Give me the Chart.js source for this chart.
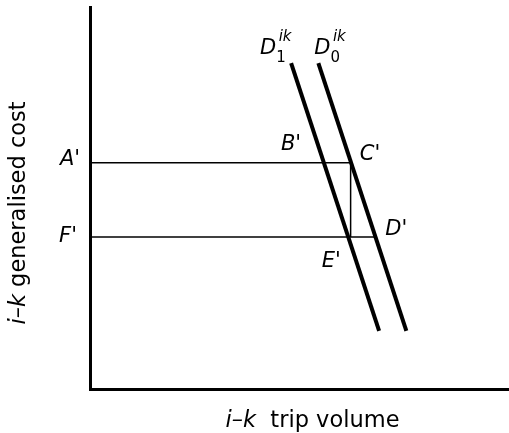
<!DOCTYPE html>
<html>
<head>
<meta charset="utf-8">
<script src="https://cdn.jsdelivr.net/npm/chart.js@4"></script>
<style>
  html, body { margin: 0; padding: 0; background: #fff; }
  #chart { display: block; }
</style>
</head>
<body>
<canvas id="chart" width="509" height="433"></canvas>
<script>
// demand curves (volume, cost), axes run 0..100
const d1Volume = [48, 69];
const d1Cost = [85.3, 15.2];
const d0Volume = [54.5, 75.5];
const d0Cost = [85.3, 15.2];

// cost levels A' and F'
const costLevels = [59.2, 39.8];
// volumes where the guide lines stop: C' (on D0), E' (on D1), D' (on D0)
const volC = 62.3;
const volE = 62.1;
const volD = 68.1;

const pointLabels = ["A'", "B'", "C'", "D'", "E'", "F'"];
const xTitle = ['i–k', '  trip volume'];
const yTitle = ['i–k', ' generalised cost'];

const ink = '#000';

const toPts = (xs, ys) => xs.map((x, i) => ({ x: x, y: ys[i] }));

const lineSet = (data, width) => ({
  data: data,
  showLine: true,
  borderColor: ink,
  borderWidth: width,
  pointRadius: 0,
  fill: false,
  borderCapStyle: 'butt'
});

const datasets = [
  lineSet(toPts(d1Volume, d1Cost), 4),
  lineSet(toPts(d0Volume, d0Cost), 4),
  lineSet([{ x: 0, y: costLevels[0] }, { x: volC, y: costLevels[0] }], 1.5),
  lineSet([{ x: 0, y: costLevels[1] }, { x: volD, y: costLevels[1] }], 1.5),
  lineSet([{ x: (volC + volE) / 2, y: costLevels[0] }, { x: (volC + volE) / 2, y: costLevels[1] }], 1.5)
];

// draw a run of text pieces, alternating italic / upright
function drawPieces(ctx, pieces, cx, cy, size) {
  const fonts = pieces.map((p, i) => (i % 2 === 0 ? 'italic ' : '') + size + 'px "DejaVu Sans"');
  let total = 0;
  const widths = pieces.map((p, i) => {
    ctx.font = fonts[i];
    const w = ctx.measureText(p).width;
    total += w;
    return w;
  });
  let x = cx - total / 2;
  ctx.textAlign = 'left';
  ctx.textBaseline = 'middle';
  pieces.forEach((p, i) => {
    ctx.font = fonts[i];
    ctx.fillText(p, x, cy);
    x += widths[i];
  });
}

const labelPlugin = {
  id: 'labels',
  afterDraw(chart) {
    const ctx = chart.ctx;
    const xs = chart.scales.x;
    const ys = chart.scales.y;
    const px = v => xs.getPixelForValue(v);
    const py = v => ys.getPixelForValue(v);
    ctx.save();
    ctx.fillStyle = ink;

    // point labels, anchored on the points they name
    const anchors = [
      [px(0), py(costLevels[0]), -20, -3],
      [px(volC), py(costLevels[0]), -60, -18],
      [px(volC), py(costLevels[0]), 19, -8],
      [px(volD), py(costLevels[1]), 21, -7],
      [px(volE), py(costLevels[1]), -19, 25],
      [px(0), py(costLevels[1]), -22, 0]
    ];
    ctx.font = 'italic 21px "DejaVu Sans"';
    ctx.textAlign = 'center';
    ctx.textBaseline = 'middle';
    pointLabels.forEach((t, i) => {
      const a = anchors[i];
      ctx.fillText(t, a[0] + a[2], a[1] + a[3]);
    });

    // curve names D_1^ik and D_0^ik
    const tops = [[px(d1Volume[0]), py(d1Cost[0]), '1', -23], [px(d0Volume[0]), py(d0Cost[0]), '0', 4]];
    tops.forEach(t => {
      const x = t[0] + t[3];
      const y = t[1] - 15;
      ctx.font = 'italic 21px "DejaVu Sans"';
      ctx.textAlign = 'center';
      ctx.fillText('D', x, y);
      ctx.font = '15px "DejaVu Sans"';
      ctx.fillText(t[2], x + 13, y + 10);
      ctx.font = 'italic 15px "DejaVu Sans"';
      ctx.fillText('ik', x + 17, y - 11);
    });

    // axis titles
    drawPieces(ctx, xTitle, (chart.chartArea.left + chart.chartArea.right) / 2 + 13, 421, 22.5);
    ctx.translate(19, 213);
    ctx.rotate(-Math.PI / 2);
    drawPieces(ctx, yTitle, 0, 0, 22.5);
    ctx.restore();
  }
};

new Chart(document.getElementById('chart'), {
  type: 'scatter',
  data: { datasets: datasets },
  options: {
    responsive: false,
    animation: false,
    devicePixelRatio: 1,
    layout: { padding: { left: 90, top: 7, right: 0, bottom: 44 } },
    plugins: { legend: { display: false }, tooltip: { enabled: false } },
    scales: {
      x: {
        type: 'linear', min: 0, max: 100,
        grid: { display: false, drawTicks: false },
        ticks: { display: false },
        border: { display: true, color: ink, width: 3 }
      },
      y: {
        type: 'linear', min: 0, max: 100,
        grid: { display: false, drawTicks: false },
        ticks: { display: false },
        border: { display: true, color: ink, width: 3 }
      }
    }
  },
  plugins: [labelPlugin]
});
</script>
</body>
</html>
